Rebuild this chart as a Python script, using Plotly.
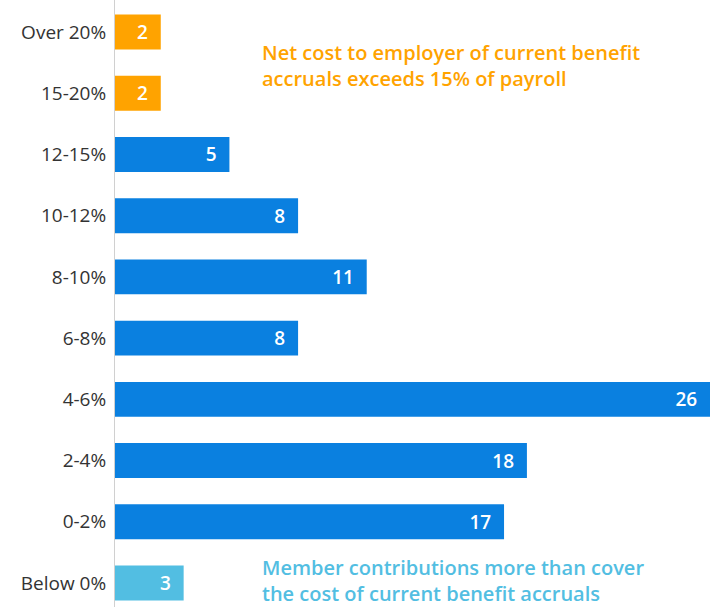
import plotly.graph_objects as go

categories = ["Below 0%", "0-2%", "2-4%", "4-6%", "6-8%", "8-10%", "10-12%", "12-15%", "15-20%", "Over 20%"]
values = [3, 17, 18, 26, 8, 11, 8, 5, 2, 2]
groups = ["low", "mid", "mid", "mid", "mid", "mid", "mid", "mid", "high", "high"]
group_colors = {"low": "#52BEE2", "mid": "#0A80E0", "high": "#FFA300"}

note_high = "Net cost to employer of current benefit<br>accruals exceeds 15% of payroll"
note_low = "Member contributions more than cover<br>the cost of current benefit accruals"

FONT = "Open Sans"
PAD = "\u00a0\u00a0"

fig = go.Figure(go.Bar(
    y=list(range(len(categories))),
    x=values,
    orientation="h",
    marker=dict(color=[group_colors[g] for g in groups], line=dict(width=0)),
    text=[str(v) + PAD for v in values],
    textposition="inside",
    insidetextanchor="end",
    textfont=dict(family=FONT, size=19, color="white", weight=600),
    constraintext="none",
    hoverinfo="skip",
))

fig.update_layout(
    width=716, height=607,
    margin=dict(l=115, r=6, t=0, b=0),
    paper_bgcolor="white", plot_bgcolor="white",
    bargap=0.43,
    showlegend=False,
    font=dict(family=FONT, color="#333333"),
    xaxis=dict(range=[0, 26], visible=False, fixedrange=True),
    yaxis=dict(
        range=[-0.392, 9.523],
        tickmode="array",
        tickvals=list(range(len(categories))),
        ticktext=categories,
        tickfont=dict(family=FONT, size=19, color="#333333"),
        showgrid=False, zeroline=False,
        showline=True, linecolor="#d0d0d0", linewidth=1,
        ticks="", ticklabelstandoff=4,
    ),
    annotations=[
        dict(x=6.32, y=8.46, xref="x", yref="y", text=note_high, showarrow=False,
             xanchor="left", yanchor="middle", align="left",
             font=dict(family=FONT, size=20, color="#FFA300", weight=600)),
        dict(x=6.32, y=0.04, xref="x", yref="y", text=note_low, showarrow=False,
             xanchor="left", yanchor="middle", align="left",
             font=dict(family=FONT, size=20, color="#52BEE2", weight=600)),
    ],
)

fig.write_html("out.html")
